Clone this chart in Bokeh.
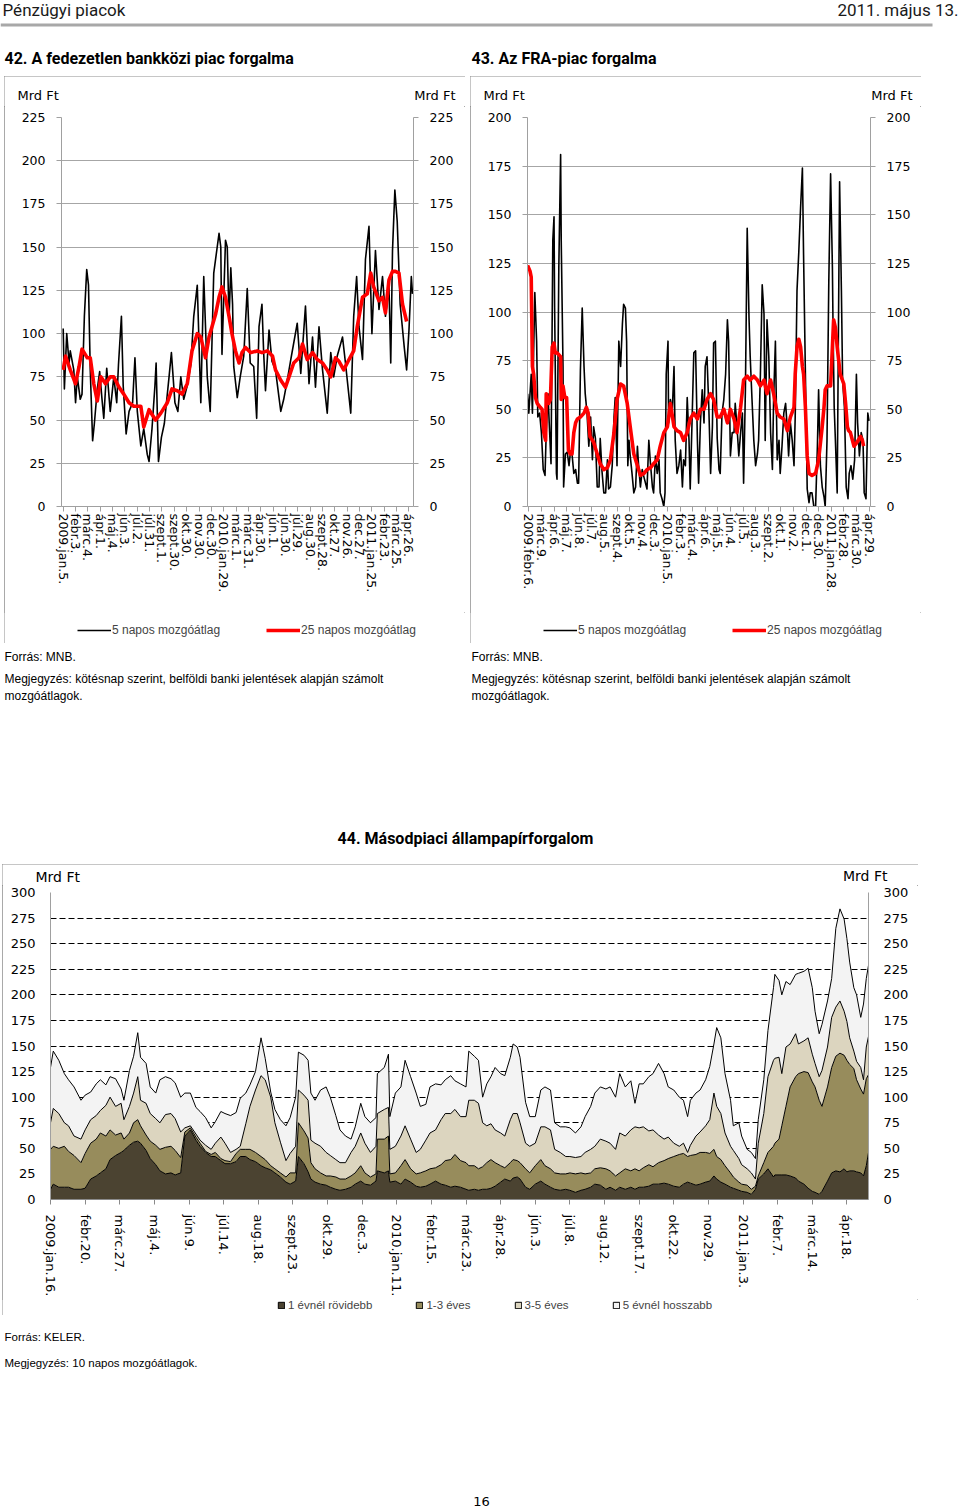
from bokeh.plotting import figure
from bokeh.models import (Range1d, LinearAxis, FixedTicker, Grid, Legend, LegendItem,
                          ColumnDataSource, Spacer)
from bokeh.layouts import column, row
from bokeh.embed import file_html
from bokeh.resources import INLINE
from bokeh.core.properties import value

NAN = float("nan")

# ---------------------------------------------------------------- data
# Chart 42: unsecured interbank market turnover (x = trading-day index)
labels_42 = ["2009.jan.5.", "febr.3.", "márc.4.", "ápr.1.", "máj.4.", "jún.3.", "júl.2.",
             "júl.31.", "szept.1.", "szept.30.", "okt.30.", "nov.30.", "dec.30.",
             "2010.jan.29.", "márc.1.", "márc.31.", "ápr.30.", "jún.1.", "jún.30.",
             "júl.29.", "aug.30.", "szept.28.", "okt.27.", "nov.26.", "dec.27.",
             "2011.jan.25.", "febr.23.", "márc.25.", "ápr.26."]
day_42_5 = [0, 2, 6, 10, 12, 18, 21, 24, 29, 32, 36, 40, 43, 46, 50, 53, 58, 62, 66, 69,
            74, 80, 86, 91, 94, 99, 102, 107, 112, 118, 122, 126, 132, 137, 143, 146, 151,
            156, 158, 162, 167, 172, 180, 184, 190, 195, 200, 205, 211, 217, 222, 228, 234,
            239, 245, 250, 256, 265, 268, 270, 276, 279, 282, 285, 288, 290, 296, 301, 307,
            313, 318, 324, 329, 333, 338, 341, 344, 350, 355, 361, 367, 370, 375, 381, 387,
            398, 404, 412, 418, 424, 429, 435, 441, 449, 455, 460, 466, 475, 480, 489, 494,
            499, 503, 509, 514, 520, 525, 531, 537, 543, 548, 554, 557, 560, 564, 568, 573,
            580, 584, 588, 592, 594]
mrd_42_5 = [103, 68, 100, 83, 90, 79, 60, 75, 62, 65, 110, 137, 128, 79, 38, 48, 68, 78, 62, 51,
            80, 55, 75, 60, 82, 110, 70, 42, 55, 60, 86, 55, 35, 45, 30, 26, 45, 70, 83, 26,
            40, 48, 75, 89, 60, 55, 75, 62, 70, 82, 110, 128, 60, 133, 75, 55, 135, 158, 150, 88,
            154, 150, 108, 138, 117, 81, 63, 75, 87, 126, 83, 81, 51, 104, 117, 88, 67, 102, 84, 79,
            63, 55, 62, 73, 85, 106, 77, 116, 71, 98, 69, 104, 79, 54, 89, 75, 87, 98, 83, 54,
            110, 133, 104, 85, 143, 162, 100, 148, 114, 133, 110, 127, 83, 148, 183, 165, 117, 92,
            79, 102, 133, 123]
day_42_25 = [0, 4, 12, 21, 27, 32, 41, 46, 52, 58, 64, 72, 80, 86, 95, 103, 112, 120, 132, 137,
             146, 157, 166, 177, 185, 194, 202, 211, 219, 228, 234, 242, 248, 253, 259, 265, 270,
             276, 282, 287, 293, 299, 304, 310, 319, 330, 338, 347, 356, 361, 370, 378, 384, 392,
             401, 407, 415, 424, 432, 441, 449, 455, 463, 469, 477, 486, 494, 500, 509, 517, 523,
             528, 537, 543, 548, 554, 560, 565, 571, 577, 584]
mrd_42_25 = [79, 87, 79, 71, 81, 91, 86, 86, 71, 61, 75, 71, 75, 75, 69, 65, 60, 58, 58, 46,
             56, 50, 54, 60, 68, 67, 65, 71, 90, 100, 98, 86, 98, 104, 111, 121, 127, 121, 110, 100,
             90, 83, 89, 92, 89, 90, 89, 90, 87, 79, 73, 69, 75, 83, 86, 94, 85, 89, 85, 83,
             79, 75, 86, 84, 79, 85, 90, 104, 121, 123, 135, 127, 119, 121, 112, 131, 136, 136, 135,
             117, 107]

# Chart 43: FRA market turnover
labels_43 = ["2009.febr.6.", "márc.9.", "ápr.6.", "máj.7.", "jún.8.", "júl.7.", "aug.5.",
             "szept.4.", "okt.5.", "nov.4.", "dec.3.", "2010.jan.5.", "febr.3.", "márc.4.",
             "ápr.6.", "máj.5.", "jún.4.", "júl.5.", "aug.3.", "szept.2.", "okt.1.", "nov.2.",
             "dec.1.", "dec.30.", "2011.jan.28.", "febr.28.", "márc.30.", "ápr.29."]
day_43_5 = [-2, 0, 2, 4, 6, 8, 10, 13, 15, 18, 21, 24, 27, 29, 32, 34, 37, 40, 42, 43,
            46, 47, 50, 53, 54, 57, 58, 61, 64, 67, 69, 72, 75, 78, 81, 83, 86, 89, 92, 94,
            97, 100, 103, 106, 108, 111, 114, 117, 119, 122, 125, 128, 131, 133, 136, 139, 142,
            144, 147, 150, 153, 156, 158, 161, 163, 165, 167, 169, 172, 175, 178, 181, 183, 186,
            189, 192, 197, 200, 203, 206, 208, 211, 214, 217, 219, 222, 225, 227, 229, 232, 233,
            236, 239, 242, 244, 247, 250, 253, 256, 258, 261, 264, 267, 269, 272, 275, 278, 281,
            283, 286, 289, 292, 294, 297, 300, 303, 306, 308, 311, 314, 317, 319, 322, 325, 328,
            331, 333, 336, 339, 342, 344, 347, 350, 353, 356, 358, 361, 364, 367, 369, 372, 375,
            378, 381, 383, 386, 389, 392, 394, 397, 400, 403, 406, 408, 411, 414, 417, 419, 422,
            425, 428, 431, 433, 436, 439, 442, 444, 447, 450, 453, 456, 458, 461, 464, 467, 469,
            472, 475, 478, 481, 483, 486, 489, 492, 494, 497, 500, 503, 506, 507, 509, 511, 514,
            517, 518, 521, 523, 526, 529, 532, 534, 537, 540, 543, 546, 548, 551, 554, 557, 559,
            562, 565, 567]
mrd_43_5 = [58, 48, 58, 68, 48, 79, 110, 85, 46, 48, 38, 19, 16, 38, 58, 43, 22, 137, 149, 102,
            17, 14, 123, 181, 137, 72, 10, 27, 28, 21, 27, 27, 17, 19, 12, 12, 70, 102, 72, 58,
            48, 31, 46, 24, 41, 35, 10, 10, 35, 18, 7, 7, 24, 9, 10, 21, 46, 56, 21, 85,
            72, 94, 104, 102, 85, 21, 34, 26, 17, 7, 10, 31, 21, 10, 19, 15, 9, 34, 21, 10,
            7, 26, 17, 24, 7, 4, 0, 7, 68, 85, 43, 55, 48, 72, 34, 17, 21, 29, 10, 24,
            21, 56, 34, 9, 43, 79, 80, 34, 12, 43, 60, 43, 72, 77, 51, 17, 41, 84, 85, 35,
            19, 17, 48, 55, 68, 96, 85, 26, 38, 38, 53, 41, 26, 38, 48, 12, 60, 143, 97, 77,
            55, 34, 21, 27, 34, 68, 114, 99, 34, 96, 77, 38, 19, 55, 85, 24, 34, 17, 31, 48,
            53, 39, 26, 43, 34, 21, 46, 111, 131, 154, 174, 128, 68, 9, 2, 7, 7, 0, 0, 31,
            60, 21, 10, 5, 0, 34, 116, 171, 123, 94, 51, 34, 7, 128, 167, 111, 65, 51, 10, 4,
            17, 21, 14, 24, 68, 43, 26, 38, 34, 7, 4, 48, 44]
day_43_25 = [-2, 2, 4, 6, 8, 11, 14, 19, 22, 25, 28, 29, 33, 36, 39, 42, 44, 47, 53, 54,
             57, 60, 63, 66, 69, 72, 75, 78, 81, 86, 92, 96, 99, 102, 108, 114, 119, 125, 131, 136,
             142, 147, 153, 158, 164, 169, 175, 181, 186, 192, 197, 203, 208, 214, 219, 225, 231,
             236, 242, 247, 253, 258, 264, 269, 275, 281, 286, 292, 297, 303, 308, 314, 319, 325,
             331, 336, 342, 347, 353, 358, 364, 369, 375, 381, 386, 392, 397, 403, 408, 414, 419,
             425, 431, 436, 442, 444, 447, 450, 453, 456, 458, 461, 464, 467, 472, 478, 483, 489,
             492, 494, 497, 503, 506, 508, 511, 514, 519, 525, 528, 531, 533, 536, 542, 547, 553,
             556, 558]
mrd_43_25 = [124, 121, 118, 72, 68, 56, 53, 51, 50, 38, 34, 58, 53, 55, 82, 84, 79, 79, 77, 55,
             62, 56, 56, 29, 27, 27, 38, 43, 45, 46, 48, 51, 48, 36, 33, 27, 22, 19, 20, 24,
             38, 55, 63, 62, 53, 41, 27, 21, 16, 17, 19, 20, 22, 24, 31, 38, 41, 53, 41, 39,
             38, 34, 38, 45, 48, 45, 50, 50, 55, 58, 55, 46, 46, 50, 43, 50, 45, 38, 51, 65,
             67, 65, 67, 65, 62, 65, 58, 65, 58, 48, 46, 45, 39, 46, 51, 68, 82, 86, 82, 72,
             68, 51, 26, 17, 16, 17, 24, 41, 51, 60, 62, 62, 82, 96, 92, 82, 68, 63, 53, 41,
             39, 38, 31, 33, 36, 34, 31]

# Chart 44: secondary market government securities turnover (10-day MA, by maturity)
labels_44 = ["2009.jan.16.", "febr.20.", "márc.27.", "máj.4.", "jún.9.", "júl.14.", "aug.18.",
             "szept.23.", "okt.29.", "dec.3.", "2010.jan.11.", "febr.15.", "márc.23.",
             "ápr.28.", "jún.3.", "júl.8.", "aug.12.", "szept.17.", "okt.22.", "nov.29.",
             "2011.jan.3.", "febr.7.", "márc.14.", "ápr.18."]
series_44 = ["1 évnél rövidebb", "1-3 éves", "3-5 éves", "5 évnél hosszabb"]
day_44 = [0, 2, 6, 10, 13, 17, 22, 25, 29, 33, 36, 40, 43, 47, 51, 53, 57, 60, 63, 65,
          69, 72, 76, 79, 83, 87, 90, 94, 97, 101, 105, 108, 112, 116, 119, 123, 126, 130, 134, 137,
          141, 144, 148, 152, 155, 159, 162, 166, 170, 173, 177, 179, 183, 186, 188, 191, 195, 199,
          202, 206, 209, 213, 217, 220, 224, 227, 231, 235, 236, 241, 244, 245, 249, 253, 256, 260,
          264, 267, 271, 274, 278, 282, 285, 289, 292, 296, 300, 302, 306, 309, 312, 315, 318,
          321, 325, 328, 332, 334, 337, 339, 343, 346, 350, 354, 357, 361, 364, 368, 372, 375,
          379, 383, 386, 390, 393, 397, 401, 404, 408, 411, 415, 419, 422, 425, 428, 432, 435,
          439, 443, 446, 450, 454, 457, 460, 462, 466, 469, 473, 476, 479, 481, 484, 487, 491,
          493, 497, 499, 503, 506, 509, 511, 515, 518, 522, 523, 526, 528, 531, 534, 538, 540,
          544, 547, 550, 552, 555, 557, 561, 564, 567, 570, 573, 575, 577, 580, 582, 585, 587,
          589, 591]
lt1 = [10, 15, 12, 12, 12, 10, 10, 11, 20, 23, 26, 30, 39, 43, 46, 48, 53, 56, 57, 55,
       48, 40, 34, 28, 25, 26, 24, 26, 62, 68, 58, 52, 46, 42, 42, 38, 35, 35, 37, 42,
       42, 39, 37, 33, 31, 29, 26, 22, 17, 15, 18, 42, 35, 27, 20, 17, 15, 14, 12, 10,
       9, 10, 12, 15, 18, 15, 14, 18, 28, 26, 28, 17, 18, 15, 20, 17, 13, 12, 13, 15,
       18, 15, 14, 12, 13, 12, 10, 9, 10, 9, 10, 10, 11,
       13, 17, 20, 18, 21, 22, 20, 12, 10, 15, 18, 15, 12, 10, 9, 10, 9, 7, 9, 10,
       12, 15, 14, 10, 12, 9, 12, 10, 12, 10, 12, 12, 13, 15, 15, 16, 15, 13, 12, 15,
       17, 16, 14, 15, 17, 18, 23, 20, 17, 15, 12, 11, 9, 8, 7, 5, 10, 20, 25, 30,
       22, 24, 24, 24, 24, 23, 21, 18, 15, 11, 8, 7, 5, 8, 18, 26, 28, 27, 30, 27,
       28, 28, 27, 26, 23, 33, 49]
y1_3 = [39, 37, 38, 40, 35, 33, 26, 34, 35, 36, 39, 32, 29, 20, 19, 11, 12, 19, 21, 17,
        15, 17, 19, 21, 26, 26, 24, 15, 4, 2, 3, 3, 1, 2, 4, 2, 3, 2, 8, 7,
        7, 10, 9, 9, 8, 4, 4, 4, 5, 11, 8, 33, 32, 33, 16, 13, 11, 9, 11, 12,
        11, 10, 11, 11, 15, 11, 8, 7, 31, 33, 34, 8, 8, 18, 19, 13, 12, 14, 15, 15,
        13, 19, 24, 27, 31, 26, 26, 24, 23, 21, 22, 26, 28,
        23, 16, 11, 18, 18, 16, 16, 18, 16, 18, 21, 18, 18, 16, 16, 15, 17, 18, 17, 15,
        14, 15, 17, 20, 16, 14, 14, 20, 16, 20, 16, 19, 21, 17, 21, 22, 25, 29, 32, 30,
        25, 27, 30, 31, 29, 27, 26, 22, 22, 18, 14, 11, 8, 7, 7, 5, 3, 3, 11, 16,
        30, 31, 35, 48, 67, 87, 99, 105, 110, 113, 107, 103, 92, 83, 92, 103, 112, 116, 111, 109,
        104, 100, 90, 82, 80, 85, 74]
y3_5 = [26, 37, 34, 23, 25, 19, 23, 23, 23, 23, 22, 30, 32, 28, 29, 19, 26, 29, 42, 25,
        31, 27, 26, 26, 32, 32, 31, 25, 4, 2, 3, 3, 6, 5, 9, 21, 17, 9, 4, 3,
        25, 42, 61, 79, 78, 67, 45, 30, 16, 19, 26, 32, 35, 37, 22, 25, 26, 23, 20, 17,
        16, 16, 23, 26, 32, 29, 24, 27, 25, 29, 28, 24, 26, 29, 33, 29, 21, 23, 30, 35,
        37, 44, 46, 45, 44, 43, 45, 64, 64, 64, 43, 36, 35,
        32, 32, 31, 42, 45, 46, 39, 25, 26, 22, 32, 38, 38, 23, 21, 17, 16, 16, 16, 21,
        23, 22, 28, 27, 27, 26, 39, 32, 40, 41, 42, 40, 33, 36, 27, 21, 21, 13, 8, 10,
        4, 10, 18, 20, 26, 33, 55, 49, 45, 32, 26, 26, 23, 19, 16, 16, 7, 32, 48, 74,
        84, 83, 80, 51, 58, 42, 42, 29, 30, 34, 27, 23, 23, 35, 39, 49, 48, 51, 43, 38,
        26, 17, 18, 21, 14, 31, 39]
gt5 = [54, 56, 52, 48, 45, 48, 38, 34, 27, 31, 30, 20, 20, 27, 14, 19, 35, 36, 43, 42,
       39, 26, 25, 42, 37, 34, 35, 34, 34, 32, 26, 28, 27, 21, 21, 25, 29, 36, 36, 47,
       30, 21, 18, 37, 21, 5, 13, 22, 34, 35, 48, 37, 39, 39, 46, 42, 55, 64, 57, 43,
       32, 26, 13, 19, 29, 26, 29, 28, 39, 41, 52, 32, 52, 48, 64, 61, 58, 42, 35, 45,
       45, 34, 33, 37, 28, 32, 29, 48, 43, 42, 25, 41, 46,
       61, 58, 59, 61, 68, 65, 64, 40, 29, 26, 36, 39, 39, 26, 25, 29, 28, 24, 29, 35,
       42, 52, 51, 51, 55, 51, 58, 48, 48, 23, 43, 42, 53, 55, 70, 64, 49, 52, 48, 42,
       35, 44, 42, 41, 45, 52, 48, 77, 74, 58, 45, 24, 35, 28, 19, 20, 20, 23, 33, 45,
       71, 82, 75, 77, 64, 58, 58, 69, 68, 68, 65, 51, 42, 45, 45, 38, 77, 90, 90, 81,
       74, 62, 65, 49, 74, 67, 70]
colors_44 = ["#4b4331", "#978c5c", "#dcd5bf", "#f3f3f3"]

# ---------------------------------------------------------------- helpers
TICK_FONT = "DejaVu Sans"
NOTE_FONT = "Liberation Sans"
PANEL_STYLE = {"outline": "1.5px solid #8c8c8c", "outline-offset": "-1.5px"}
BLACK_LINE = dict(line_color="black", line_width=1.6, line_join="round")
RED_LINE = dict(line_color="#ff0000", line_width=3.6, line_join="round")


def base_fig(w, h, **kw):
    p = figure(width=w, height=h, output_backend="svg", toolbar_location=None, title=None,
               x_axis_location=None, y_axis_location=None, **kw)
    p.frame_align = False
    p.outline_line_color = None
    p.background_fill_color = "white"
    p.border_fill_color = "white"
    for g in p.grid:
        g.visible = False
    return p


def text_fig(w, h):
    return base_fig(w, h, x_range=Range1d(0, w), y_range=Range1d(h, 0), min_border=0)


def put(p, x, y, txt, size, font=NOTE_FONT, align="left", bold=False, color="black"):
    p.text(x=[x], y=[y], text=[txt], text_font=value(font), text_font_size=size,
           text_align=align, text_baseline="middle", text_color=color,
           text_font_style="bold" if bold else "normal")


def style_axis(ax, size, color="#a0a0a0", tick_out=5, standoff=11):
    ax.axis_line_color = color
    ax.axis_line_width = 1
    ax.major_tick_line_color = color if tick_out else None
    ax.major_tick_out = tick_out
    ax.major_tick_in = 0
    ax.minor_tick_line_color = None
    ax.major_label_text_font = TICK_FONT
    ax.major_label_text_font_size = size
    ax.major_label_text_color = "black"
    ax.major_label_standoff = standoff


def legend_strip(w, h, items, loc, glyph_w, glyph_h, label_h, standoff, spacing, size):
    # legend-only strip: swatch renderers hold a single NaN point, so nothing is drawn
    s = text_fig(w, h)
    leg_items = []
    for label, kind, style in items:
        if kind == "line":
            r = s.line(x=[NAN], y=[NAN], **style)
        else:
            r = s.quad(left=[NAN], right=[NAN], top=[NAN], bottom=[NAN], **style)
        leg_items.append(LegendItem(label=label, renderers=[r]))
    s.add_layout(Legend(items=leg_items, location=loc, orientation="horizontal",
                        glyph_width=glyph_w, glyph_height=glyph_h, label_height=label_h,
                        label_standoff=standoff, spacing=spacing, padding=0, margin=0,
                        border_line_color=None, background_fill_alpha=0,
                        label_text_font=NOTE_FONT, label_text_font_size=size))
    return s


def line_chart(width, fl, frame_w, xr, ymax, labels, step, x5, y5, x25, y25):
    H, ft, fh = 506, 11, 389
    p = base_fig(width, H, x_range=Range1d(*xr), y_range=Range1d(0, ymax),
                 min_border_left=fl, min_border_right=width - fl - frame_w,
                 min_border_top=ft, min_border_bottom=H - ft - fh)

    ticks = [i * step for i in range(len(labels))]
    xa = LinearAxis(ticker=FixedTicker(ticks=ticks),
                    major_label_overrides=dict(zip(ticks, labels)))
    style_axis(xa, "12.5px", standoff=2)
    xa.major_label_orientation = "vertical"
    p.add_layout(xa, "below")

    yt = FixedTicker(ticks=list(range(0, ymax + 1, 25)))
    for side in ("left", "right"):
        ya = LinearAxis(ticker=yt)
        style_axis(ya, "12.5px", standoff=11)
        p.add_layout(ya, side)
    p.add_layout(Grid(dimension=1, ticker=yt, grid_line_color="#a6a6a6", grid_line_width=1))

    p.line(x5, y5, **BLACK_LINE)
    p.line(x25, y25, **RED_LINE)
    return p


def line_panel(width, fl, frame_w, xr, ymax, labels, x5, y5, x25, y25, mrd_right):
    top = text_fig(width, 30)
    put(top, 13, 19, "Mrd Ft", "13px", TICK_FONT)
    put(top, mrd_right, 19, "Mrd Ft", "13px", TICK_FONT, align="right")
    chart = line_chart(width, fl, frame_w, xr, ymax, labels, 21, x5, y5, x25, y25)
    leg = legend_strip(width, 31, [("5 napos mozgóátlag", "line", BLACK_LINE),
                                   ("25 napos mozgóátlag", "line", RED_LINE)],
                       (73, 6), 34, 14, 14, 1, 46, "12px")
    return column(top, chart, leg, styles=PANEL_STYLE)


# ---------------------------------------------------------------- header
head = text_fig(960, 76)
put(head, 2, 9, "Pénzügyi piacok", "17px", "Roboto", color="#1a1a1a")
put(head, 958, 9, "2011. május 13.", "17px", "Roboto", align="right", color="#1a1a1a")
head.segment(x0=[0], y0=[24.5], x1=[932], y1=[24.5], line_color="#a8a8a8", line_width=3)
put(head, 4, 58, "42. A fedezetlen bankközi piac forgalma", "16px", "Roboto", bold=True)
put(head, 471, 58, "43. Az FRA-piac forgalma", "16px", "Roboto", bold=True)

# ---------------------------------------------------------------- charts 42, 43
panel42 = line_panel(461, 57, 352, (-2.9, 595.7), 225, labels_42,
                     day_42_5, mrd_42_5, day_42_25, mrd_42_25, 451)
panel43 = line_panel(451, 57, 343, (-2.2, 569.5), 200, labels_43,
                     day_43_5, mrd_43_5, day_43_25, mrd_43_25, 442)
charts_row = row(Spacer(width=4, height=567), panel42, Spacer(width=5, height=567), panel43)

# ---------------------------------------------------------------- notes
notes = text_fig(960, 221)
for x0 in (4, 471):
    put(notes, x0, 13, "Forrás: MNB.", "12px")
    put(notes, x0, 35, "Megjegyzés: kötésnap szerint, belföldi banki jelentések alapján számolt", "12px")
    put(notes, x0, 52, "mozgóátlagok.", "12px")
put(notes, 465, 195, "44. Másodpiaci állampapírforgalom", "16px", "Roboto", align="center", bold=True)

# ---------------------------------------------------------------- chart 44
W44, H44, fl44, ft44, fw44, fh44 = 916, 414, 48, 7, 818, 309
x_end44 = 590.6
p44 = base_fig(W44, H44, x_range=Range1d(0, x_end44), y_range=Range1d(0, 300),
               min_border_left=fl44, min_border_right=W44 - fl44 - fw44,
               min_border_top=ft44, min_border_bottom=H44 - ft44 - fh44)

ticks44 = [i * 25 for i in range(len(labels_44))]
xa44 = LinearAxis(ticker=FixedTicker(ticks=ticks44),
                  major_label_overrides=dict(zip(ticks44, labels_44)))
style_axis(xa44, "13px", color="#8a8a8a", tick_out=5, standoff=10)
xa44.major_label_orientation = "vertical"
p44.add_layout(xa44, "below")
yt44 = FixedTicker(ticks=list(range(0, 301, 25)))
for side in ("left", "right"):
    ya = LinearAxis(ticker=yt44)
    style_axis(ya, "13px", color="#a0a0a0", tick_out=0, standoff=15)
    p44.add_layout(ya, side)
p44.add_layout(Grid(dimension=1, ticker=FixedTicker(ticks=list(range(25, 301, 25))),
                    grid_line_color="black", grid_line_dash="6 3", grid_line_width=1))

src44 = ColumnDataSource(dict(x=day_44, s1=lt1, s2=y1_3, s3=y3_5, s4=gt5))
stack_names = ["s1", "s2", "s3", "s4"]
p44.varea_stack(stack_names, x="x", source=src44, color=colors_44)
p44.vline_stack(stack_names, x="x", source=src44, line_color="black", line_width=1)

strip44 = text_fig(W44, 21)
put(strip44, 33, 12, "Mrd Ft", "14px", TICK_FONT)
put(strip44, 885, 11, "Mrd Ft", "14px", TICK_FONT, align="right")
leg44 = legend_strip(W44, 16,
                     [(name, "quad", dict(fill_color=col, line_color="black", line_width=1))
                      for name, col in zip(series_44, colors_44)],
                     (275, 4), 8, 8, 10, 3, 43, "11.5px")
panel44 = column(strip44, p44, leg44, styles=PANEL_STYLE)
chart44_row = row(Spacer(width=2, height=451), panel44)

# ---------------------------------------------------------------- footer
foot = text_fig(960, 193)
put(foot, 4, 21, "Forrás: KELER.", "11.5px")
put(foot, 4, 47, "Megjegyzés: 10 napos mozgóátlagok.", "11.5px")
put(foot, 481, 186, "16", "13px", TICK_FONT, align="center")

page = column(head, charts_row, notes, chart44_row, foot)
open("out.html", "w").write(file_html(page, INLINE))
